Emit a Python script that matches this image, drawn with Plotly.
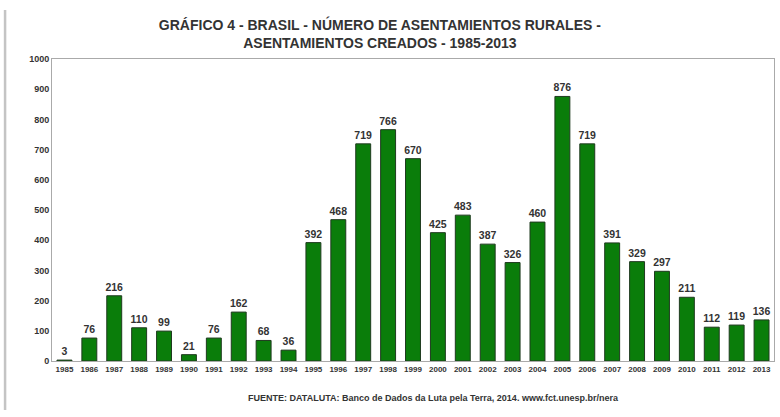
import plotly.graph_objects as go

years = [str(y) for y in range(1985, 2014)]
asentamientos = [3, 76, 216, 110, 99, 21, 76, 162, 68, 36, 392, 468, 719, 766, 670,
                 425, 483, 387, 326, 460, 876, 719, 391, 329, 297, 211, 112, 119, 136]
y_ticks = [0, 100, 200, 300, 400, 500, 600, 700, 800, 900, 1000]

title_lines = ["GRÁFICO 4 - BRASIL - NÚMERO DE ASENTAMIENTOS RURALES -",
               "ASENTAMIENTOS CREADOS - 1985-2013"]
source_text = "FUENTE: DATALUTA: Banco de Dados da Luta pela Terra, 2014. www.fct.unesp.br/nera"

FONT = "Liberation Sans, Arial"
TXT = "#333333"

fig = go.Figure(go.Bar(
    x=years, y=asentamientos,
    marker=dict(color="#0a7d0a", line=dict(color="#1f3a1f", width=1)),
    width=0.6,
    text=["<b>%d</b>" % v for v in asentamientos], textposition="outside",
    textfont=dict(family=FONT, size=10.5, color=TXT),
    constraintext="none",
    cliponaxis=False,
))

fig.update_layout(
    width=780, height=417,
    margin=dict(l=52, r=6, t=59, b=56),
    paper_bgcolor="white", plot_bgcolor="white",
    showlegend=False,
    title=dict(text="<br>".join("<b>%s</b>" % t for t in title_lines),
               x=0.487, xanchor="center", y=0.929, yanchor="top",
               font=dict(family=FONT, size=14, color=TXT)),
    xaxis=dict(type="category", showgrid=False, ticks="", showline=True, linecolor="#aaaaaa",
               mirror=True, tickfont=dict(family=FONT, size=8, color=TXT, weight="bold"),
               tickangle=0),
    yaxis=dict(range=[0, 1000], tickvals=y_ticks, showgrid=False, ticks="", showline=True,
               linecolor="#aaaaaa", mirror=True, zeroline=False,
               tickfont=dict(family=FONT, size=9, color=TXT, weight="bold")),
    annotations=[dict(text="<b>" + source_text + "</b>", x=0.529, y=-0.10, xref="paper",
                      yref="paper", xanchor="center", yanchor="top", showarrow=False,
                      font=dict(family=FONT, size=9, color=TXT))],
    shapes=[dict(type="line", xref="paper", yref="paper", x0=-0.065, x1=-0.065,
                 y0=-0.162, y1=1.162, line=dict(color="#c4c4c4", width=2.5))],
)

fig.write_html("out.html")
